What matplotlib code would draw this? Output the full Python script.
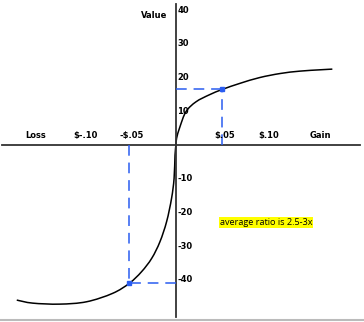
import matplotlib.pyplot as plt
from matplotlib.path import Path
from matplotlib.patches import PathPatch
import numpy as np

# value curve (gain/loss in $, value)
gain_x = [0.0, 0.0007, 0.0043, 0.0108, 0.0215, 0.036, 0.05, 0.069, 0.09, 0.112, 0.133, 0.155, 0.168]
gain_y = [0.0, 2.0, 5.4, 9.9, 12.8, 14.9, 16.5, 18.3, 20.0, 21.2, 21.9, 22.3, 22.5]
loss_x = [0.0, -0.001, -0.002, -0.0047, -0.01, -0.0172, -0.026, -0.037, -0.05, -0.068, -0.096, -0.125, -0.154, -0.171]
loss_y = [0.0, -3.0, -9.9, -15.8, -22.7, -28.7, -33.6, -37.6, -41.0, -44.0, -46.5, -47.2, -46.9, -46.0]

ref_x = [-0.05, 0.05]
ref_y = [-41.0, 16.5]

x_labels = ["Loss", "$-.10", "-$.05", "$.05", "$.10", "Gain"]
x_label_pos = [-0.151, -0.097, -0.048, 0.052, 0.1, 0.155]
y_ticks = [40, 30, 20, 10, -10, -20, -30, -40]


def smooth_path(xs, ys, ax):
    # catmull-rom through the points, done in pixel space so it looks right
    pts = ax.transData.transform(np.column_stack([xs, ys]))
    verts = [pts[0]]
    codes = [Path.MOVETO]
    n = len(pts)
    for i in range(n - 1):
        p0 = pts[max(i - 1, 0)]
        p1 = pts[i]
        p2 = pts[i + 1]
        p3 = pts[min(i + 2, n - 1)]
        c1 = p1 + (p2 - p0) / 6
        c2 = p2 - (p3 - p1) / 6
        verts += [c1, c2, p2]
        codes += [Path.CURVE4] * 3
    return Path(verts, codes)


fig = plt.figure(figsize=(3.64, 3.22), dpi=100)
ax = fig.add_axes([0, 0, 1, 1])
ax.set_xlim(-0.189, 0.202)
ax.set_ylim(-52.5, 43)
ax.axis("off")

# axes lines
ax.plot([-0.187, 0.198], [0, 0], color="#333333", lw=1.3)
ax.plot([0, 0], [-51, 41.8], color="#333333", lw=1.3)

# curve
for xs, ys in [(gain_x, gain_y), (loss_x, loss_y)]:
    p = smooth_path(xs, ys, ax)
    ax.add_patch(PathPatch(p, transform=None, facecolor="none", edgecolor="black", lw=1.1))

# dashed reference lines
for rx, ry in zip(ref_x, ref_y):
    ax.plot([rx, rx], [0, ry], color="#2a5cf0", lw=1.1, ls=(0, (7, 4.5)))
    ax.plot([0, rx], [ry, ry], color="#2a5cf0", lw=1.1, ls=(0, (7, 4.5)))
    ax.plot(rx, ry, "s", color="#2a5cf0", ms=2.5)

for lab, xp in zip(x_labels, x_label_pos):
    ax.text(xp, 1.5, lab, ha="center", va="bottom", fontsize=6, fontweight="bold",
            family="DejaVu Sans")

for t in y_ticks:
    ax.text(0.0015, t, str(t) if t > 0 else "-" + str(-t), ha="left", va="center",
            fontsize=6, fontweight="bold", family="DejaVu Sans")

ax.text(-0.009, 38.4, "Value", ha="right", va="center", fontsize=6, fontweight="bold",
        family="DejaVu Sans")

ax.text(0.047, -23, "average ratio is 2.5-3x", ha="left", va="center", fontsize=6.6,
        family="Open Sans",
        bbox=dict(facecolor="yellow", edgecolor="none", pad=0.4))

# gray border line at the bottom
fig.add_artist(plt.Line2D([0, 1], [2.5 / 322, 2.5 / 322], color="#bbbbbb", lw=1.5))

fig.savefig("out.png", dpi=100)
